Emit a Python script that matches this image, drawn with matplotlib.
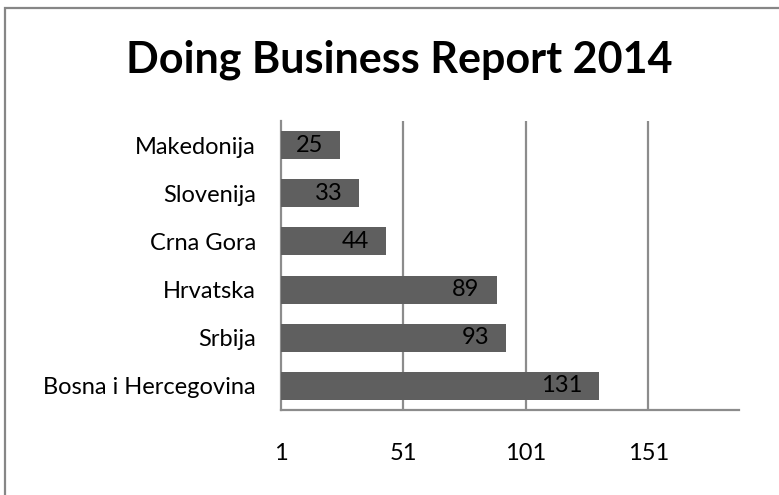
import matplotlib.pyplot as plt
from matplotlib.patches import Rectangle

countries = ["Bosna i Hercegovina", "Srbija", "Hrvatska", "Crna Gora", "Slovenija", "Makedonija"]
ranks = [131, 93, 89, 44, 33, 25]
x_ticks = [1, 51, 101, 151]

plt.rcParams['font.family'] = ['Lato', 'DejaVu Sans']

fig = plt.figure(figsize=(7.79, 4.95), dpi=100)
ax = fig.add_axes([281 / 779, 1 - 410 / 495, (739 - 281) / 779, (410 - 121) / 495])

grid_col = "#8c8c8c"
ax.barh(range(len(countries)), [r - 1 for r in ranks], left=1, height=0.58,
        color="#5f5f5f", zorder=3)

for i, r in enumerate(ranks):
    ax.annotate(str(r), xy=(r, i), xytext=(-17, 0), textcoords="offset pixels",
                ha="right", va="center", fontsize=17, color="black", zorder=4)

ax.set_xlim(1, 188)
ax.set_ylim(-0.5, len(countries) - 0.5)
ax.set_yticks(range(len(countries)))
ax.set_yticklabels(countries, fontsize=17)
ax.set_xticks(x_ticks)
ax.set_xticklabels([str(t) for t in x_ticks], fontsize=17)
ax.tick_params(axis="x", length=0, pad=24)
ax.tick_params(axis="y", length=0, pad=18)

for t in x_ticks[1:]:
    ax.axvline(t, color=grid_col, linewidth=1.6, zorder=1)

for side in ["top", "right"]:
    ax.spines[side].set_visible(False)
ax.spines["left"].set_color(grid_col)
ax.spines["bottom"].set_color(grid_col)
ax.spines["left"].set_linewidth(1.6)
ax.spines["bottom"].set_linewidth(1.6)

fig.text((126 + 672) / 2 / 779, 1 - 60 / 495, "Doing Business Report 2014",
         ha="center", va="center", fontsize=31, fontweight="bold")

border = Rectangle((5 / 779, -0.1), 1.2, 1 - 8 / 495 + 0.1, transform=fig.transFigure,
                   fill=False, edgecolor="#868686", linewidth=1.6)
fig.patches.append(border)

fig.savefig("out.png", dpi=100)
